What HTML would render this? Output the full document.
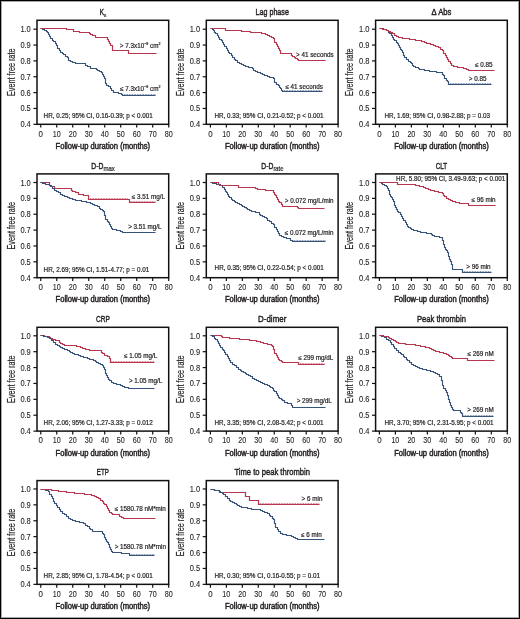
<!DOCTYPE html>
<html><head><meta charset="utf-8"><style>
html,body{margin:0;padding:0;background:#fff;}
body{width:520px;height:619px;overflow:hidden;}
svg{display:block;will-change:transform;}
text{font-family:"Liberation Sans",sans-serif;fill:#231f20;stroke:#231f20;stroke-width:0.45px;}
.sm{stroke-width:0.2px;}
.tk{stroke-width:0.1px;}
.yl{stroke-width:0.2px;}
</style></head><body>
<svg width="520" height="619" viewBox="0 0 520 619">
<rect x="0" y="0" width="520" height="619" fill="#fff"/>
<g>
<path d="M40.50,28.50 H42.50 V29.50 H44.50 V30.50 H46.50 V31.50 H47.50 V32.50 H48.50 V34.50 H49.50 V36.50 H50.50 V38.50 H52.50 V40.50 H53.50 V41.50 H55.50 V43.50 H56.50 V45.50 H57.50 V46.50 V48.50 H59.50 V50.50 H60.50 V52.50 H62.50 V53.50 H63.50 V54.50 H65.50 V56.50 H67.50 V57.50 H68.50 V59.50 H68.50 V60.50 H70.50 V61.50 H72.50 V62.50 H73.50 V62.50 H75.50 V63.50 H83.50 H85.50 V65.50 H87.50 V66.50 H88.50 V66.50 H90.50 V68.50 H94.50 H96.50 V69.50 H97.50 V70.50 H99.50 V71.50 H100.50 V71.50 H101.50 V72.50 H102.50 V74.50 H103.50 V76.50 H104.50 V78.50 H105.50 V80.50 H105.50 V81.50 V83.50 H106.50 V85.50 H108.50 V86.50 H110.50 V88.50 H111.50 V90.50 H113.50 V92.50 H116.50 H118.50 V93.50 H119.50 V93.50 H121.50 V94.50 H122.50 V95.50 H155.50" fill="none" stroke="#37537a" stroke-width="1.15"/>
<path d="M40.50,28.50 H66.50 V29.50 H73.50 V31.50 H79.50 V32.50 H87.50 H89.50 V33.50 H90.50 V34.50 H92.50 V35.50 H93.50 V35.50 H95.50 V37.50 H106.50 H107.50 V39.50 H108.50 V41.50 H109.50 V43.50 H110.50 V45.50 H112.50 V47.50 V50.50 H128.50 V53.50 H156.50" fill="none" stroke="#b8364d" stroke-width="1.2"/>
<line x1="122.50" y1="94.50" x2="155.50" y2="94.50" stroke="#37537a" stroke-width="1" stroke-dasharray="0.8 0.8" opacity="0.75"/>
<rect x="37.00" y="20.30" width="131.70" height="104.00" fill="none" stroke="#111" stroke-width="1.5"/>
<line x1="33.40" y1="124.30" x2="37.00" y2="124.30" stroke="#111" stroke-width="1.2"/>
<text class="tk" x="30.80" y="127.30" font-size="8.4" text-anchor="end" textLength="10.4" lengthAdjust="spacingAndGlyphs">0.4</text>
<line x1="33.40" y1="108.45" x2="37.00" y2="108.45" stroke="#111" stroke-width="1.2"/>
<text class="tk" x="30.80" y="111.45" font-size="8.4" text-anchor="end" textLength="10.4" lengthAdjust="spacingAndGlyphs">0.5</text>
<line x1="33.40" y1="92.60" x2="37.00" y2="92.60" stroke="#111" stroke-width="1.2"/>
<text class="tk" x="30.80" y="95.60" font-size="8.4" text-anchor="end" textLength="10.4" lengthAdjust="spacingAndGlyphs">0.6</text>
<line x1="33.40" y1="76.75" x2="37.00" y2="76.75" stroke="#111" stroke-width="1.2"/>
<text class="tk" x="30.80" y="79.75" font-size="8.4" text-anchor="end" textLength="10.4" lengthAdjust="spacingAndGlyphs">0.7</text>
<line x1="33.40" y1="60.90" x2="37.00" y2="60.90" stroke="#111" stroke-width="1.2"/>
<text class="tk" x="30.80" y="63.90" font-size="8.4" text-anchor="end" textLength="10.4" lengthAdjust="spacingAndGlyphs">0.8</text>
<line x1="33.40" y1="45.05" x2="37.00" y2="45.05" stroke="#111" stroke-width="1.2"/>
<text class="tk" x="30.80" y="48.05" font-size="8.4" text-anchor="end" textLength="10.4" lengthAdjust="spacingAndGlyphs">0.9</text>
<line x1="33.40" y1="29.20" x2="37.00" y2="29.20" stroke="#111" stroke-width="1.2"/>
<text class="tk" x="30.80" y="32.20" font-size="8.4" text-anchor="end" textLength="10.4" lengthAdjust="spacingAndGlyphs">1.0</text>
<line x1="40.75" y1="124.30" x2="40.75" y2="127.60" stroke="#111" stroke-width="1.2"/>
<text class="tk" x="40.75" y="136.60" font-size="8.4" text-anchor="middle" textLength="4.40" lengthAdjust="spacingAndGlyphs">0</text>
<line x1="56.74" y1="124.30" x2="56.74" y2="127.60" stroke="#111" stroke-width="1.2"/>
<text class="tk" x="56.74" y="136.60" font-size="8.4" text-anchor="middle" textLength="8.00" lengthAdjust="spacingAndGlyphs">10</text>
<line x1="72.74" y1="124.30" x2="72.74" y2="127.60" stroke="#111" stroke-width="1.2"/>
<text class="tk" x="72.74" y="136.60" font-size="8.4" text-anchor="middle" textLength="8.00" lengthAdjust="spacingAndGlyphs">20</text>
<line x1="88.73" y1="124.30" x2="88.73" y2="127.60" stroke="#111" stroke-width="1.2"/>
<text class="tk" x="88.73" y="136.60" font-size="8.4" text-anchor="middle" textLength="8.00" lengthAdjust="spacingAndGlyphs">30</text>
<line x1="104.72" y1="124.30" x2="104.72" y2="127.60" stroke="#111" stroke-width="1.2"/>
<text class="tk" x="104.72" y="136.60" font-size="8.4" text-anchor="middle" textLength="8.00" lengthAdjust="spacingAndGlyphs">40</text>
<line x1="120.72" y1="124.30" x2="120.72" y2="127.60" stroke="#111" stroke-width="1.2"/>
<text class="tk" x="120.72" y="136.60" font-size="8.4" text-anchor="middle" textLength="8.00" lengthAdjust="spacingAndGlyphs">50</text>
<line x1="136.71" y1="124.30" x2="136.71" y2="127.60" stroke="#111" stroke-width="1.2"/>
<text class="tk" x="136.71" y="136.60" font-size="8.4" text-anchor="middle" textLength="8.00" lengthAdjust="spacingAndGlyphs">60</text>
<line x1="152.71" y1="124.30" x2="152.71" y2="127.60" stroke="#111" stroke-width="1.2"/>
<text class="tk" x="152.71" y="136.60" font-size="8.4" text-anchor="middle" textLength="8.00" lengthAdjust="spacingAndGlyphs">70</text>
<line x1="168.70" y1="124.30" x2="168.70" y2="127.60" stroke="#111" stroke-width="1.2"/>
<text class="tk" x="168.70" y="136.60" font-size="8.4" text-anchor="middle" textLength="8.00" lengthAdjust="spacingAndGlyphs">80</text>
<text x="102.85" y="149.00" font-size="8.3" text-anchor="middle" textLength="94.6" lengthAdjust="spacingAndGlyphs">Follow-up duration (months)</text>
<text class="yl" transform="translate(14.50,72.30) rotate(-90)" font-size="10" text-anchor="middle" textLength="47.4" lengthAdjust="spacingAndGlyphs">Event free rate</text>
<text x="99.75" y="15.10" font-size="9.8" textLength="4.2" lengthAdjust="spacingAndGlyphs">K</text>
<text class="sm" x="103.85" y="17.30" font-size="6.2" textLength="2.6" lengthAdjust="spacingAndGlyphs">s</text>
<text class="sm" x="43.60" y="117.90" font-size="6.3">HR, 0.25; 95% CI, 0.16-0.39; p &lt; 0.001</text>
<text class="sm" x="119.80" y="47.50" font-size="6.30">&gt; 7.3x10<tspan font-size="3.6" dy="-2.6">−9</tspan><tspan dy="2.6"> cm</tspan><tspan font-size="3.6" dy="-2.6">2</tspan></text>
<text class="sm" x="120.00" y="90.60" font-size="6.30">≤ 7.3x10<tspan font-size="3.6" dy="-2.6">−9</tspan><tspan dy="2.6"> cm</tspan><tspan font-size="3.6" dy="-2.6">2</tspan></text>
</g>
<g>
<path d="M210.50,28.50 H212.50 V29.50 H213.50 V30.50 H214.50 V32.50 H215.50 V33.50 H217.50 V35.50 H218.50 V37.50 H219.50 V39.50 H221.50 V40.50 H222.50 V42.50 H223.50 V44.50 H224.50 V46.50 H226.50 V48.50 H227.50 V50.50 H228.50 V52.50 H229.50 V53.50 H231.50 V55.50 H232.50 V57.50 H234.50 V59.50 H235.50 V60.50 H237.50 V62.50 H239.50 V63.50 H241.50 V64.50 H243.50 V65.50 H245.50 V66.50 H247.50 V66.50 H248.50 V67.50 H250.50 V67.50 H252.50 V68.50 H253.50 V70.50 H255.50 V71.50 H257.50 V72.50 H258.50 V72.50 H260.50 V73.50 H262.50 V74.50 H264.50 V75.50 H265.50 V75.50 H267.50 V76.50 H269.50 V77.50 H271.50 V77.50 H273.50 V78.50 H274.50 V80.50 H274.50 V82.50 H276.50 V84.50 H278.50 V85.50 H279.50 V87.50 H280.50 V88.50 H281.50 V90.50 H282.50 V91.50 H322.50" fill="none" stroke="#37537a" stroke-width="1.15"/>
<path d="M210.50,28.50 H223.50 H225.50 V30.50 H239.50 H241.50 V31.50 H243.50 V31.50 H245.50 V31.50 H247.50 V31.50 H248.50 V31.50 H250.50 V32.50 H252.50 V32.50 H254.50 V32.50 H255.50 V32.50 H257.50 V32.50 H259.50 V32.50 H261.50 V33.50 H263.50 V33.50 H265.50 V34.50 H267.50 V35.50 H269.50 V36.50 H271.50 V37.50 H273.50 V38.50 H274.50 V40.50 H274.50 V42.50 H276.50 V44.50 H277.50 V46.50 H278.50 V48.50 H279.50 V50.50 H280.50 V52.50 H280.50 V53.50 H289.50 H291.50 V55.50 H292.50 V56.50 H294.50 V57.50 H295.50 V58.50 H297.50 V59.50 H298.50 V60.50 H325.50" fill="none" stroke="#b8364d" stroke-width="1.2"/>
<line x1="282.50" y1="90.50" x2="322.50" y2="90.50" stroke="#37537a" stroke-width="1" stroke-dasharray="0.8 0.8" opacity="0.75"/>
<rect x="206.30" y="20.30" width="131.80" height="104.00" fill="none" stroke="#111" stroke-width="1.5"/>
<line x1="202.70" y1="124.30" x2="206.30" y2="124.30" stroke="#111" stroke-width="1.2"/>
<text class="tk" x="200.10" y="127.30" font-size="8.4" text-anchor="end" textLength="10.4" lengthAdjust="spacingAndGlyphs">0.4</text>
<line x1="202.70" y1="108.45" x2="206.30" y2="108.45" stroke="#111" stroke-width="1.2"/>
<text class="tk" x="200.10" y="111.45" font-size="8.4" text-anchor="end" textLength="10.4" lengthAdjust="spacingAndGlyphs">0.5</text>
<line x1="202.70" y1="92.60" x2="206.30" y2="92.60" stroke="#111" stroke-width="1.2"/>
<text class="tk" x="200.10" y="95.60" font-size="8.4" text-anchor="end" textLength="10.4" lengthAdjust="spacingAndGlyphs">0.6</text>
<line x1="202.70" y1="76.75" x2="206.30" y2="76.75" stroke="#111" stroke-width="1.2"/>
<text class="tk" x="200.10" y="79.75" font-size="8.4" text-anchor="end" textLength="10.4" lengthAdjust="spacingAndGlyphs">0.7</text>
<line x1="202.70" y1="60.90" x2="206.30" y2="60.90" stroke="#111" stroke-width="1.2"/>
<text class="tk" x="200.10" y="63.90" font-size="8.4" text-anchor="end" textLength="10.4" lengthAdjust="spacingAndGlyphs">0.8</text>
<line x1="202.70" y1="45.05" x2="206.30" y2="45.05" stroke="#111" stroke-width="1.2"/>
<text class="tk" x="200.10" y="48.05" font-size="8.4" text-anchor="end" textLength="10.4" lengthAdjust="spacingAndGlyphs">0.9</text>
<line x1="202.70" y1="29.20" x2="206.30" y2="29.20" stroke="#111" stroke-width="1.2"/>
<text class="tk" x="200.10" y="32.20" font-size="8.4" text-anchor="end" textLength="10.4" lengthAdjust="spacingAndGlyphs">1.0</text>
<line x1="210.40" y1="124.30" x2="210.40" y2="127.60" stroke="#111" stroke-width="1.2"/>
<text class="tk" x="210.40" y="136.60" font-size="8.4" text-anchor="middle" textLength="4.40" lengthAdjust="spacingAndGlyphs">0</text>
<line x1="226.36" y1="124.30" x2="226.36" y2="127.60" stroke="#111" stroke-width="1.2"/>
<text class="tk" x="226.36" y="136.60" font-size="8.4" text-anchor="middle" textLength="8.00" lengthAdjust="spacingAndGlyphs">10</text>
<line x1="242.33" y1="124.30" x2="242.33" y2="127.60" stroke="#111" stroke-width="1.2"/>
<text class="tk" x="242.33" y="136.60" font-size="8.4" text-anchor="middle" textLength="8.00" lengthAdjust="spacingAndGlyphs">20</text>
<line x1="258.29" y1="124.30" x2="258.29" y2="127.60" stroke="#111" stroke-width="1.2"/>
<text class="tk" x="258.29" y="136.60" font-size="8.4" text-anchor="middle" textLength="8.00" lengthAdjust="spacingAndGlyphs">30</text>
<line x1="274.25" y1="124.30" x2="274.25" y2="127.60" stroke="#111" stroke-width="1.2"/>
<text class="tk" x="274.25" y="136.60" font-size="8.4" text-anchor="middle" textLength="8.00" lengthAdjust="spacingAndGlyphs">40</text>
<line x1="290.21" y1="124.30" x2="290.21" y2="127.60" stroke="#111" stroke-width="1.2"/>
<text class="tk" x="290.21" y="136.60" font-size="8.4" text-anchor="middle" textLength="8.00" lengthAdjust="spacingAndGlyphs">50</text>
<line x1="306.18" y1="124.30" x2="306.18" y2="127.60" stroke="#111" stroke-width="1.2"/>
<text class="tk" x="306.18" y="136.60" font-size="8.4" text-anchor="middle" textLength="8.00" lengthAdjust="spacingAndGlyphs">60</text>
<line x1="322.14" y1="124.30" x2="322.14" y2="127.60" stroke="#111" stroke-width="1.2"/>
<text class="tk" x="322.14" y="136.60" font-size="8.4" text-anchor="middle" textLength="8.00" lengthAdjust="spacingAndGlyphs">70</text>
<line x1="338.10" y1="124.30" x2="338.10" y2="127.60" stroke="#111" stroke-width="1.2"/>
<text class="tk" x="338.10" y="136.60" font-size="8.4" text-anchor="middle" textLength="8.00" lengthAdjust="spacingAndGlyphs">80</text>
<text x="272.20" y="149.00" font-size="8.3" text-anchor="middle" textLength="94.6" lengthAdjust="spacingAndGlyphs">Follow-up duration (months)</text>
<text class="yl" transform="translate(183.80,72.30) rotate(-90)" font-size="10" text-anchor="middle" textLength="47.4" lengthAdjust="spacingAndGlyphs">Event free rate</text>
<text x="272.20" y="15.10" font-size="9.8" text-anchor="middle" textLength="33.30" lengthAdjust="spacingAndGlyphs">Lag phase</text>
<text class="sm" x="214.50" y="117.70" font-size="6.3">HR, 0.33; 95% CI, 0.21-0.52; p &lt; 0.001</text>
<text class="sm" x="296.00" y="56.70" font-size="6.30">&gt; 41 seconds</text>
<text class="sm" x="285.40" y="89.30" font-size="6.30">≤ 41 seconds</text>
</g>
<g>
<path d="M379.50,28.50 H381.50 H383.50 V29.50 H384.50 V29.50 H386.50 V30.50 H388.50 V32.50 H389.50 V33.50 H391.50 V35.50 H392.50 V37.50 H393.50 V39.50 H394.50 V40.50 H396.50 V42.50 H397.50 V43.50 H398.50 V45.50 H399.50 V47.50 H400.50 V49.50 H401.50 V50.50 H402.50 V52.50 H403.50 V54.50 H403.50 V55.50 H404.50 V57.50 H406.50 V59.50 H408.50 V61.50 H410.50 V62.50 H411.50 V63.50 H412.50 V65.50 H413.50 V66.50 H415.50 V67.50 H416.50 V67.50 H418.50 V68.50 H419.50 V69.50 H421.50 V69.50 H423.50 V69.50 H424.50 V70.50 H426.50 V70.50 H428.50 V70.50 H429.50 V71.50 H431.50 V71.50 H432.50 V71.50 H434.50 V71.50 H436.50 V72.50 H438.50 V72.50 H439.50 V72.50 H441.50 V72.50 H442.50 V74.50 H443.50 V75.50 H444.50 V77.50 H444.50 V78.50 H446.50 V80.50 H447.50 V81.50 H448.50 V83.50 H448.50 V84.50 H491.50" fill="none" stroke="#37537a" stroke-width="1.15"/>
<path d="M379.50,28.50 H381.50 V28.50 H382.50 V29.50 H384.50 V29.50 H386.50 V30.50 H388.50 V31.50 H390.50 V32.50 H392.50 V33.50 H394.50 V35.50 H396.50 V36.50 H398.50 V37.50 H400.50 V37.50 H402.50 V38.50 H404.50 V38.50 H406.50 V38.50 H408.50 V38.50 H409.50 V39.50 H411.50 V39.50 H413.50 V39.50 H415.50 V40.50 H417.50 V40.50 H419.50 V40.50 H421.50 V41.50 H422.50 V41.50 H424.50 V42.50 H426.50 V43.50 H428.50 V43.50 H430.50 V44.50 H431.50 V44.50 H433.50 V45.50 H435.50 V46.50 H436.50 V46.50 H438.50 V47.50 H440.50 V49.50 H442.50 V50.50 H443.50 V52.50 H443.50 V53.50 H445.50 V55.50 H446.50 V57.50 H447.50 V59.50 H448.50 V61.50 H450.50 V63.50 H451.50 V65.50 H453.50 V66.50 H455.50 V66.50 H457.50 V67.50 H459.50 V67.50 H461.50 V67.50 H463.50 V68.50 H464.50 V68.50 H466.50 V69.50 H468.50 V70.50 H494.50" fill="none" stroke="#b8364d" stroke-width="1.2"/>
<line x1="448.50" y1="83.50" x2="491.50" y2="83.50" stroke="#37537a" stroke-width="1" stroke-dasharray="0.8 0.8" opacity="0.75"/>
<rect x="375.60" y="20.30" width="131.70" height="104.00" fill="none" stroke="#111" stroke-width="1.5"/>
<line x1="372.00" y1="124.30" x2="375.60" y2="124.30" stroke="#111" stroke-width="1.2"/>
<text class="tk" x="369.40" y="127.30" font-size="8.4" text-anchor="end" textLength="10.4" lengthAdjust="spacingAndGlyphs">0.4</text>
<line x1="372.00" y1="108.45" x2="375.60" y2="108.45" stroke="#111" stroke-width="1.2"/>
<text class="tk" x="369.40" y="111.45" font-size="8.4" text-anchor="end" textLength="10.4" lengthAdjust="spacingAndGlyphs">0.5</text>
<line x1="372.00" y1="92.60" x2="375.60" y2="92.60" stroke="#111" stroke-width="1.2"/>
<text class="tk" x="369.40" y="95.60" font-size="8.4" text-anchor="end" textLength="10.4" lengthAdjust="spacingAndGlyphs">0.6</text>
<line x1="372.00" y1="76.75" x2="375.60" y2="76.75" stroke="#111" stroke-width="1.2"/>
<text class="tk" x="369.40" y="79.75" font-size="8.4" text-anchor="end" textLength="10.4" lengthAdjust="spacingAndGlyphs">0.7</text>
<line x1="372.00" y1="60.90" x2="375.60" y2="60.90" stroke="#111" stroke-width="1.2"/>
<text class="tk" x="369.40" y="63.90" font-size="8.4" text-anchor="end" textLength="10.4" lengthAdjust="spacingAndGlyphs">0.8</text>
<line x1="372.00" y1="45.05" x2="375.60" y2="45.05" stroke="#111" stroke-width="1.2"/>
<text class="tk" x="369.40" y="48.05" font-size="8.4" text-anchor="end" textLength="10.4" lengthAdjust="spacingAndGlyphs">0.9</text>
<line x1="372.00" y1="29.20" x2="375.60" y2="29.20" stroke="#111" stroke-width="1.2"/>
<text class="tk" x="369.40" y="32.20" font-size="8.4" text-anchor="end" textLength="10.4" lengthAdjust="spacingAndGlyphs">1.0</text>
<line x1="379.40" y1="124.30" x2="379.40" y2="127.60" stroke="#111" stroke-width="1.2"/>
<text class="tk" x="379.40" y="136.60" font-size="8.4" text-anchor="middle" textLength="4.40" lengthAdjust="spacingAndGlyphs">0</text>
<line x1="395.39" y1="124.30" x2="395.39" y2="127.60" stroke="#111" stroke-width="1.2"/>
<text class="tk" x="395.39" y="136.60" font-size="8.4" text-anchor="middle" textLength="8.00" lengthAdjust="spacingAndGlyphs">10</text>
<line x1="411.38" y1="124.30" x2="411.38" y2="127.60" stroke="#111" stroke-width="1.2"/>
<text class="tk" x="411.38" y="136.60" font-size="8.4" text-anchor="middle" textLength="8.00" lengthAdjust="spacingAndGlyphs">20</text>
<line x1="427.36" y1="124.30" x2="427.36" y2="127.60" stroke="#111" stroke-width="1.2"/>
<text class="tk" x="427.36" y="136.60" font-size="8.4" text-anchor="middle" textLength="8.00" lengthAdjust="spacingAndGlyphs">30</text>
<line x1="443.35" y1="124.30" x2="443.35" y2="127.60" stroke="#111" stroke-width="1.2"/>
<text class="tk" x="443.35" y="136.60" font-size="8.4" text-anchor="middle" textLength="8.00" lengthAdjust="spacingAndGlyphs">40</text>
<line x1="459.34" y1="124.30" x2="459.34" y2="127.60" stroke="#111" stroke-width="1.2"/>
<text class="tk" x="459.34" y="136.60" font-size="8.4" text-anchor="middle" textLength="8.00" lengthAdjust="spacingAndGlyphs">50</text>
<line x1="475.32" y1="124.30" x2="475.32" y2="127.60" stroke="#111" stroke-width="1.2"/>
<text class="tk" x="475.32" y="136.60" font-size="8.4" text-anchor="middle" textLength="8.00" lengthAdjust="spacingAndGlyphs">60</text>
<line x1="491.31" y1="124.30" x2="491.31" y2="127.60" stroke="#111" stroke-width="1.2"/>
<text class="tk" x="491.31" y="136.60" font-size="8.4" text-anchor="middle" textLength="8.00" lengthAdjust="spacingAndGlyphs">70</text>
<line x1="507.30" y1="124.30" x2="507.30" y2="127.60" stroke="#111" stroke-width="1.2"/>
<text class="tk" x="507.30" y="136.60" font-size="8.4" text-anchor="middle" textLength="8.00" lengthAdjust="spacingAndGlyphs">80</text>
<text x="441.45" y="149.00" font-size="8.3" text-anchor="middle" textLength="94.6" lengthAdjust="spacingAndGlyphs">Follow-up duration (months)</text>
<text class="yl" transform="translate(353.10,72.30) rotate(-90)" font-size="10" text-anchor="middle" textLength="47.4" lengthAdjust="spacingAndGlyphs">Event free rate</text>
<text x="441.45" y="15.10" font-size="9" text-anchor="middle" textLength="19.9" lengthAdjust="spacingAndGlyphs">Δ Abs</text>
<text class="sm" x="384.50" y="117.70" font-size="6.3">HR, 1.69; 95% CI, 0.98-2.88; p = 0.03</text>
<text class="sm" x="475.00" y="67.40" font-size="6.30">≤ 0.85</text>
<text class="sm" x="468.80" y="80.80" font-size="6.30">&gt; 0.85</text>
</g>
<g>
<path d="M40.50,182.50 H48.50 H49.50 V184.50 H49.50 V185.50 H51.50 V186.50 H52.50 V186.50 H54.50 V188.50 H70.50 H71.50 V190.50 H72.50 V191.50 H74.50 V191.50 H75.50 V192.50 H77.50 V192.50 H78.50 V194.50 H80.50 V194.50 H82.50 V194.50 H83.50 V195.50 H85.50 V195.50 H87.50 V195.50 H88.50 V197.50 H88.50 V199.50 H128.50 H129.50 V201.50 H129.50 V202.50 H155.50" fill="none" stroke="#b8364d" stroke-width="1.2"/>
<path d="M40.50,182.50 H42.50 V183.50 H44.50 V183.50 H45.50 V184.50 H47.50 V184.50 H49.50 V185.50 H50.50 V186.50 H52.50 V188.50 H54.50 V190.50 H56.50 V191.50 H58.50 V192.50 H60.50 V194.50 H62.50 V195.50 H64.50 V196.50 H65.50 V196.50 H67.50 V197.50 H69.50 V198.50 H70.50 V198.50 H72.50 V199.50 H74.50 V199.50 H75.50 V200.50 H77.50 V200.50 H79.50 V200.50 H81.50 V201.50 H82.50 V201.50 H84.50 V201.50 H86.50 V202.50 H88.50 V202.50 H90.50 V203.50 H92.50 V204.50 H94.50 V205.50 H95.50 V205.50 H97.50 V206.50 H99.50 V208.50 H100.50 V209.50 H102.50 V210.50 H103.50 V211.50 H104.50 V213.50 H104.50 V215.50 H105.50 V217.50 H105.50 V219.50 H107.50 V221.50 H108.50 V222.50 H109.50 V224.50 H110.50 V226.50 H111.50 V228.50 H112.50 V229.50 H114.50 V229.50 H116.50 V230.50 H118.50 V230.50 H120.50 V231.50 H122.50 V232.50 H155.50" fill="none" stroke="#37537a" stroke-width="1.15"/>
<line x1="88.50" y1="198.50" x2="128.50" y2="198.50" stroke="#b8364d" stroke-width="1" stroke-dasharray="0.8 0.8" opacity="0.75"/>
<line x1="129.50" y1="201.50" x2="155.50" y2="201.50" stroke="#b8364d" stroke-width="1" stroke-dasharray="0.8 0.8" opacity="0.75"/>
<rect x="37.00" y="173.90" width="131.70" height="103.80" fill="none" stroke="#111" stroke-width="1.5"/>
<line x1="33.40" y1="277.70" x2="37.00" y2="277.70" stroke="#111" stroke-width="1.2"/>
<text class="tk" x="30.80" y="280.70" font-size="8.4" text-anchor="end" textLength="10.4" lengthAdjust="spacingAndGlyphs">0.4</text>
<line x1="33.40" y1="261.83" x2="37.00" y2="261.83" stroke="#111" stroke-width="1.2"/>
<text class="tk" x="30.80" y="264.83" font-size="8.4" text-anchor="end" textLength="10.4" lengthAdjust="spacingAndGlyphs">0.5</text>
<line x1="33.40" y1="245.97" x2="37.00" y2="245.97" stroke="#111" stroke-width="1.2"/>
<text class="tk" x="30.80" y="248.97" font-size="8.4" text-anchor="end" textLength="10.4" lengthAdjust="spacingAndGlyphs">0.6</text>
<line x1="33.40" y1="230.10" x2="37.00" y2="230.10" stroke="#111" stroke-width="1.2"/>
<text class="tk" x="30.80" y="233.10" font-size="8.4" text-anchor="end" textLength="10.4" lengthAdjust="spacingAndGlyphs">0.7</text>
<line x1="33.40" y1="214.23" x2="37.00" y2="214.23" stroke="#111" stroke-width="1.2"/>
<text class="tk" x="30.80" y="217.23" font-size="8.4" text-anchor="end" textLength="10.4" lengthAdjust="spacingAndGlyphs">0.8</text>
<line x1="33.40" y1="198.37" x2="37.00" y2="198.37" stroke="#111" stroke-width="1.2"/>
<text class="tk" x="30.80" y="201.37" font-size="8.4" text-anchor="end" textLength="10.4" lengthAdjust="spacingAndGlyphs">0.9</text>
<line x1="33.40" y1="182.50" x2="37.00" y2="182.50" stroke="#111" stroke-width="1.2"/>
<text class="tk" x="30.80" y="185.50" font-size="8.4" text-anchor="end" textLength="10.4" lengthAdjust="spacingAndGlyphs">1.0</text>
<line x1="40.75" y1="277.70" x2="40.75" y2="281.00" stroke="#111" stroke-width="1.2"/>
<text class="tk" x="40.75" y="290.00" font-size="8.4" text-anchor="middle" textLength="4.40" lengthAdjust="spacingAndGlyphs">0</text>
<line x1="56.74" y1="277.70" x2="56.74" y2="281.00" stroke="#111" stroke-width="1.2"/>
<text class="tk" x="56.74" y="290.00" font-size="8.4" text-anchor="middle" textLength="8.00" lengthAdjust="spacingAndGlyphs">10</text>
<line x1="72.74" y1="277.70" x2="72.74" y2="281.00" stroke="#111" stroke-width="1.2"/>
<text class="tk" x="72.74" y="290.00" font-size="8.4" text-anchor="middle" textLength="8.00" lengthAdjust="spacingAndGlyphs">20</text>
<line x1="88.73" y1="277.70" x2="88.73" y2="281.00" stroke="#111" stroke-width="1.2"/>
<text class="tk" x="88.73" y="290.00" font-size="8.4" text-anchor="middle" textLength="8.00" lengthAdjust="spacingAndGlyphs">30</text>
<line x1="104.72" y1="277.70" x2="104.72" y2="281.00" stroke="#111" stroke-width="1.2"/>
<text class="tk" x="104.72" y="290.00" font-size="8.4" text-anchor="middle" textLength="8.00" lengthAdjust="spacingAndGlyphs">40</text>
<line x1="120.72" y1="277.70" x2="120.72" y2="281.00" stroke="#111" stroke-width="1.2"/>
<text class="tk" x="120.72" y="290.00" font-size="8.4" text-anchor="middle" textLength="8.00" lengthAdjust="spacingAndGlyphs">50</text>
<line x1="136.71" y1="277.70" x2="136.71" y2="281.00" stroke="#111" stroke-width="1.2"/>
<text class="tk" x="136.71" y="290.00" font-size="8.4" text-anchor="middle" textLength="8.00" lengthAdjust="spacingAndGlyphs">60</text>
<line x1="152.71" y1="277.70" x2="152.71" y2="281.00" stroke="#111" stroke-width="1.2"/>
<text class="tk" x="152.71" y="290.00" font-size="8.4" text-anchor="middle" textLength="8.00" lengthAdjust="spacingAndGlyphs">70</text>
<line x1="168.70" y1="277.70" x2="168.70" y2="281.00" stroke="#111" stroke-width="1.2"/>
<text class="tk" x="168.70" y="290.00" font-size="8.4" text-anchor="middle" textLength="8.00" lengthAdjust="spacingAndGlyphs">80</text>
<text x="102.85" y="302.40" font-size="8.3" text-anchor="middle" textLength="94.6" lengthAdjust="spacingAndGlyphs">Follow-up duration (months)</text>
<text class="yl" transform="translate(14.50,225.80) rotate(-90)" font-size="10" text-anchor="middle" textLength="47.4" lengthAdjust="spacingAndGlyphs">Event free rate</text>
<text x="91.35" y="168.70" font-size="9.8" textLength="12.0" lengthAdjust="spacingAndGlyphs">D-D</text>
<text class="sm" x="103.45" y="171.10" font-size="6.6" textLength="11.4" lengthAdjust="spacingAndGlyphs">max</text>
<text class="sm" x="43.60" y="271.50" font-size="6.3">HR, 2.69; 95% CI, 1.51-4.77; p = 0.01</text>
<text class="sm" x="131.70" y="198.60" font-size="6.30">≤ 3.51 mg/L</text>
<text class="sm" x="128.20" y="228.50" font-size="6.30">&gt; 3.51 mg/L</text>
</g>
<g>
<path d="M210.50,182.50 H212.50 V183.50 H214.50 V183.50 H216.50 V184.50 H218.50 V184.50 H220.50 V185.50 H222.50 V187.50 H224.50 V189.50 H225.50 V191.50 H226.50 V192.50 H227.50 V194.50 H228.50 V196.50 H229.50 V197.50 H231.50 V199.50 H232.50 V200.50 H234.50 V201.50 H235.50 V202.50 H237.50 V203.50 H239.50 V204.50 H241.50 V205.50 H242.50 V206.50 H244.50 V207.50 H246.50 V208.50 H247.50 V209.50 H249.50 V210.50 H251.50 V211.50 H253.50 V211.50 H255.50 V212.50 H257.50 V212.50 H259.50 V214.50 H260.50 V215.50 H262.50 V216.50 H264.50 V217.50 H266.50 V218.50 H267.50 V220.50 H269.50 V221.50 H271.50 V223.50 H273.50 V224.50 H274.50 V226.50 H274.50 V227.50 H276.50 V229.50 H277.50 V231.50 H278.50 V233.50 H279.50 V235.50 H281.50 V236.50 H283.50 V237.50 H285.50 V237.50 H286.50 V238.50 H288.50 V238.50 H290.50 V240.50 H292.50 V241.50 H325.50" fill="none" stroke="#37537a" stroke-width="1.15"/>
<path d="M210.50,182.50 H217.50 H218.50 V184.50 H219.50 V185.50 H237.50 H238.50 V187.50 H253.50 H255.50 V188.50 H257.50 V189.50 H259.50 V189.50 H261.50 V189.50 H263.50 V189.50 H265.50 V190.50 H266.50 V190.50 H268.50 V190.50 H270.50 V190.50 H272.50 V190.50 H273.50 V192.50 H274.50 V194.50 H275.50 V195.50 H276.50 V197.50 H277.50 V199.50 H278.50 V201.50 H279.50 V202.50 H281.50 V204.50 H282.50 V206.50 H295.50 H297.50 V207.50 H298.50 V208.50 H324.50" fill="none" stroke="#b8364d" stroke-width="1.2"/>
<line x1="292.50" y1="240.50" x2="325.50" y2="240.50" stroke="#37537a" stroke-width="1" stroke-dasharray="0.8 0.8" opacity="0.75"/>
<rect x="206.30" y="173.90" width="131.80" height="103.80" fill="none" stroke="#111" stroke-width="1.5"/>
<line x1="202.70" y1="277.70" x2="206.30" y2="277.70" stroke="#111" stroke-width="1.2"/>
<text class="tk" x="200.10" y="280.70" font-size="8.4" text-anchor="end" textLength="10.4" lengthAdjust="spacingAndGlyphs">0.4</text>
<line x1="202.70" y1="261.83" x2="206.30" y2="261.83" stroke="#111" stroke-width="1.2"/>
<text class="tk" x="200.10" y="264.83" font-size="8.4" text-anchor="end" textLength="10.4" lengthAdjust="spacingAndGlyphs">0.5</text>
<line x1="202.70" y1="245.97" x2="206.30" y2="245.97" stroke="#111" stroke-width="1.2"/>
<text class="tk" x="200.10" y="248.97" font-size="8.4" text-anchor="end" textLength="10.4" lengthAdjust="spacingAndGlyphs">0.6</text>
<line x1="202.70" y1="230.10" x2="206.30" y2="230.10" stroke="#111" stroke-width="1.2"/>
<text class="tk" x="200.10" y="233.10" font-size="8.4" text-anchor="end" textLength="10.4" lengthAdjust="spacingAndGlyphs">0.7</text>
<line x1="202.70" y1="214.23" x2="206.30" y2="214.23" stroke="#111" stroke-width="1.2"/>
<text class="tk" x="200.10" y="217.23" font-size="8.4" text-anchor="end" textLength="10.4" lengthAdjust="spacingAndGlyphs">0.8</text>
<line x1="202.70" y1="198.37" x2="206.30" y2="198.37" stroke="#111" stroke-width="1.2"/>
<text class="tk" x="200.10" y="201.37" font-size="8.4" text-anchor="end" textLength="10.4" lengthAdjust="spacingAndGlyphs">0.9</text>
<line x1="202.70" y1="182.50" x2="206.30" y2="182.50" stroke="#111" stroke-width="1.2"/>
<text class="tk" x="200.10" y="185.50" font-size="8.4" text-anchor="end" textLength="10.4" lengthAdjust="spacingAndGlyphs">1.0</text>
<line x1="210.40" y1="277.70" x2="210.40" y2="281.00" stroke="#111" stroke-width="1.2"/>
<text class="tk" x="210.40" y="290.00" font-size="8.4" text-anchor="middle" textLength="4.40" lengthAdjust="spacingAndGlyphs">0</text>
<line x1="226.36" y1="277.70" x2="226.36" y2="281.00" stroke="#111" stroke-width="1.2"/>
<text class="tk" x="226.36" y="290.00" font-size="8.4" text-anchor="middle" textLength="8.00" lengthAdjust="spacingAndGlyphs">10</text>
<line x1="242.33" y1="277.70" x2="242.33" y2="281.00" stroke="#111" stroke-width="1.2"/>
<text class="tk" x="242.33" y="290.00" font-size="8.4" text-anchor="middle" textLength="8.00" lengthAdjust="spacingAndGlyphs">20</text>
<line x1="258.29" y1="277.70" x2="258.29" y2="281.00" stroke="#111" stroke-width="1.2"/>
<text class="tk" x="258.29" y="290.00" font-size="8.4" text-anchor="middle" textLength="8.00" lengthAdjust="spacingAndGlyphs">30</text>
<line x1="274.25" y1="277.70" x2="274.25" y2="281.00" stroke="#111" stroke-width="1.2"/>
<text class="tk" x="274.25" y="290.00" font-size="8.4" text-anchor="middle" textLength="8.00" lengthAdjust="spacingAndGlyphs">40</text>
<line x1="290.21" y1="277.70" x2="290.21" y2="281.00" stroke="#111" stroke-width="1.2"/>
<text class="tk" x="290.21" y="290.00" font-size="8.4" text-anchor="middle" textLength="8.00" lengthAdjust="spacingAndGlyphs">50</text>
<line x1="306.18" y1="277.70" x2="306.18" y2="281.00" stroke="#111" stroke-width="1.2"/>
<text class="tk" x="306.18" y="290.00" font-size="8.4" text-anchor="middle" textLength="8.00" lengthAdjust="spacingAndGlyphs">60</text>
<line x1="322.14" y1="277.70" x2="322.14" y2="281.00" stroke="#111" stroke-width="1.2"/>
<text class="tk" x="322.14" y="290.00" font-size="8.4" text-anchor="middle" textLength="8.00" lengthAdjust="spacingAndGlyphs">70</text>
<line x1="338.10" y1="277.70" x2="338.10" y2="281.00" stroke="#111" stroke-width="1.2"/>
<text class="tk" x="338.10" y="290.00" font-size="8.4" text-anchor="middle" textLength="8.00" lengthAdjust="spacingAndGlyphs">80</text>
<text x="272.20" y="302.40" font-size="8.3" text-anchor="middle" textLength="94.6" lengthAdjust="spacingAndGlyphs">Follow-up duration (months)</text>
<text class="yl" transform="translate(183.80,225.80) rotate(-90)" font-size="10" text-anchor="middle" textLength="47.4" lengthAdjust="spacingAndGlyphs">Event free rate</text>
<text x="261.30" y="168.70" font-size="9.8" textLength="12.0" lengthAdjust="spacingAndGlyphs">D-D</text>
<text class="sm" x="273.40" y="171.10" font-size="6.6" textLength="10.0" lengthAdjust="spacingAndGlyphs">rate</text>
<text class="sm" x="214.60" y="270.10" font-size="6.3">HR, 0.35; 95% CI, 0.22-0.54; p &lt; 0.001</text>
<text class="sm" x="284.80" y="203.10" font-size="6.30">&gt; 0.072 mg/L/min</text>
<text class="sm" x="284.80" y="234.80" font-size="6.30">≤ 0.072 mg/L/min</text>
</g>
<g>
<path d="M379.50,182.50 H381.50 V183.50 H382.50 V184.50 H384.50 V185.50 H386.50 V186.50 H387.50 V188.50 H388.50 V190.50 H389.50 V192.50 H389.50 V194.50 H390.50 V196.50 H391.50 V197.50 H392.50 V199.50 H393.50 V201.50 H394.50 V203.50 H394.50 V205.50 H395.50 V207.50 H396.50 V209.50 H397.50 V211.50 H398.50 V212.50 H400.50 V214.50 H401.50 V216.50 H402.50 V218.50 H403.50 V220.50 H405.50 V222.50 H406.50 V224.50 H407.50 V226.50 H408.50 V227.50 H410.50 V228.50 H411.50 V229.50 H413.50 V230.50 H415.50 V230.50 H417.50 V231.50 H418.50 V231.50 H420.50 V232.50 H422.50 V232.50 H424.50 V232.50 H426.50 V233.50 H427.50 V233.50 H429.50 V233.50 H431.50 V234.50 H432.50 V235.50 H434.50 V236.50 H436.50 V236.50 H438.50 V236.50 H439.50 V237.50 H441.50 V237.50 H442.50 V239.50 H442.50 V240.50 H443.50 V242.50 H443.50 V244.50 H444.50 V246.50 H444.50 V247.50 H445.50 V249.50 H446.50 V250.50 H447.50 V252.50 H448.50 V254.50 H448.50 V256.50 H449.50 V257.50 H449.50 V259.50 H450.50 V261.50 H451.50 V262.50 H451.50 V264.50 H452.50 V266.50 H452.50 V267.50 H452.50 V269.50 H461.50 H462.50 V271.50 H462.50 V272.50 H491.50" fill="none" stroke="#37537a" stroke-width="1.15"/>
<path d="M379.50,182.50 H396.50 H397.50 V184.50 H413.50 H415.50 V185.50 H417.50 V185.50 H419.50 V186.50 H421.50 V186.50 H423.50 V187.50 H425.50 V188.50 H426.50 V188.50 H428.50 V189.50 H430.50 V190.50 H432.50 V190.50 H434.50 V191.50 H436.50 V191.50 H438.50 V192.50 H440.50 V192.50 H442.50 V193.50 H443.50 V195.50 H444.50 V196.50 H446.50 V198.50 H448.50 V199.50 H450.50 V200.50 H452.50 V201.50 H454.50 V201.50 H455.50 V202.50 H457.50 V202.50 H459.50 V203.50 H467.50 H468.50 V205.50 H495.50" fill="none" stroke="#b8364d" stroke-width="1.2"/>
<line x1="462.50" y1="271.50" x2="491.50" y2="271.50" stroke="#37537a" stroke-width="1" stroke-dasharray="0.8 0.8" opacity="0.75"/>
<rect x="375.60" y="173.90" width="131.70" height="103.80" fill="none" stroke="#111" stroke-width="1.5"/>
<line x1="372.00" y1="277.70" x2="375.60" y2="277.70" stroke="#111" stroke-width="1.2"/>
<text class="tk" x="369.40" y="280.70" font-size="8.4" text-anchor="end" textLength="10.4" lengthAdjust="spacingAndGlyphs">0.4</text>
<line x1="372.00" y1="261.83" x2="375.60" y2="261.83" stroke="#111" stroke-width="1.2"/>
<text class="tk" x="369.40" y="264.83" font-size="8.4" text-anchor="end" textLength="10.4" lengthAdjust="spacingAndGlyphs">0.5</text>
<line x1="372.00" y1="245.97" x2="375.60" y2="245.97" stroke="#111" stroke-width="1.2"/>
<text class="tk" x="369.40" y="248.97" font-size="8.4" text-anchor="end" textLength="10.4" lengthAdjust="spacingAndGlyphs">0.6</text>
<line x1="372.00" y1="230.10" x2="375.60" y2="230.10" stroke="#111" stroke-width="1.2"/>
<text class="tk" x="369.40" y="233.10" font-size="8.4" text-anchor="end" textLength="10.4" lengthAdjust="spacingAndGlyphs">0.7</text>
<line x1="372.00" y1="214.23" x2="375.60" y2="214.23" stroke="#111" stroke-width="1.2"/>
<text class="tk" x="369.40" y="217.23" font-size="8.4" text-anchor="end" textLength="10.4" lengthAdjust="spacingAndGlyphs">0.8</text>
<line x1="372.00" y1="198.37" x2="375.60" y2="198.37" stroke="#111" stroke-width="1.2"/>
<text class="tk" x="369.40" y="201.37" font-size="8.4" text-anchor="end" textLength="10.4" lengthAdjust="spacingAndGlyphs">0.9</text>
<line x1="372.00" y1="182.50" x2="375.60" y2="182.50" stroke="#111" stroke-width="1.2"/>
<text class="tk" x="369.40" y="185.50" font-size="8.4" text-anchor="end" textLength="10.4" lengthAdjust="spacingAndGlyphs">1.0</text>
<line x1="379.40" y1="277.70" x2="379.40" y2="281.00" stroke="#111" stroke-width="1.2"/>
<text class="tk" x="379.40" y="290.00" font-size="8.4" text-anchor="middle" textLength="4.40" lengthAdjust="spacingAndGlyphs">0</text>
<line x1="395.39" y1="277.70" x2="395.39" y2="281.00" stroke="#111" stroke-width="1.2"/>
<text class="tk" x="395.39" y="290.00" font-size="8.4" text-anchor="middle" textLength="8.00" lengthAdjust="spacingAndGlyphs">10</text>
<line x1="411.38" y1="277.70" x2="411.38" y2="281.00" stroke="#111" stroke-width="1.2"/>
<text class="tk" x="411.38" y="290.00" font-size="8.4" text-anchor="middle" textLength="8.00" lengthAdjust="spacingAndGlyphs">20</text>
<line x1="427.36" y1="277.70" x2="427.36" y2="281.00" stroke="#111" stroke-width="1.2"/>
<text class="tk" x="427.36" y="290.00" font-size="8.4" text-anchor="middle" textLength="8.00" lengthAdjust="spacingAndGlyphs">30</text>
<line x1="443.35" y1="277.70" x2="443.35" y2="281.00" stroke="#111" stroke-width="1.2"/>
<text class="tk" x="443.35" y="290.00" font-size="8.4" text-anchor="middle" textLength="8.00" lengthAdjust="spacingAndGlyphs">40</text>
<line x1="459.34" y1="277.70" x2="459.34" y2="281.00" stroke="#111" stroke-width="1.2"/>
<text class="tk" x="459.34" y="290.00" font-size="8.4" text-anchor="middle" textLength="8.00" lengthAdjust="spacingAndGlyphs">50</text>
<line x1="475.32" y1="277.70" x2="475.32" y2="281.00" stroke="#111" stroke-width="1.2"/>
<text class="tk" x="475.32" y="290.00" font-size="8.4" text-anchor="middle" textLength="8.00" lengthAdjust="spacingAndGlyphs">60</text>
<line x1="491.31" y1="277.70" x2="491.31" y2="281.00" stroke="#111" stroke-width="1.2"/>
<text class="tk" x="491.31" y="290.00" font-size="8.4" text-anchor="middle" textLength="8.00" lengthAdjust="spacingAndGlyphs">70</text>
<line x1="507.30" y1="277.70" x2="507.30" y2="281.00" stroke="#111" stroke-width="1.2"/>
<text class="tk" x="507.30" y="290.00" font-size="8.4" text-anchor="middle" textLength="8.00" lengthAdjust="spacingAndGlyphs">80</text>
<text x="441.45" y="302.40" font-size="8.3" text-anchor="middle" textLength="94.6" lengthAdjust="spacingAndGlyphs">Follow-up duration (months)</text>
<text class="yl" transform="translate(353.10,225.80) rotate(-90)" font-size="10" text-anchor="middle" textLength="47.4" lengthAdjust="spacingAndGlyphs">Event free rate</text>
<text x="441.45" y="168.70" font-size="9.8" text-anchor="middle" textLength="11.50" lengthAdjust="spacingAndGlyphs">CLT</text>
<text class="sm" x="396.10" y="181.20" font-size="6.3">HR, 5.80; 95% CI, 3.49-9.63; p &lt; 0.001</text>
<text class="sm" x="471.50" y="201.50" font-size="6.30">≤ 96 min</text>
<text class="sm" x="466.30" y="268.60" font-size="6.30">&gt; 96 min</text>
</g>
<g>
<path d="M40.50,335.50 H42.50 V335.50 H44.50 V336.50 H45.50 V336.50 H47.50 V336.50 H49.50 V337.50 H50.50 V338.50 H52.50 V339.50 H53.50 V339.50 H55.50 V340.50 H57.50 V340.50 H59.50 V342.50 H60.50 V343.50 H62.50 V344.50 H64.50 V345.50 H74.50 H76.50 V346.50 H78.50 V346.50 H80.50 V347.50 H82.50 V348.50 H84.50 V348.50 H85.50 V349.50 H87.50 V349.50 H89.50 V350.50 H90.50 V350.50 H99.50 H101.50 V352.50 H102.50 V353.50 H104.50 V355.50 H106.50 V355.50 H107.50 V356.50 H109.50 V356.50 H109.50 V358.50 H110.50 V360.50 H110.50 V362.50 H154.50" fill="none" stroke="#b8364d" stroke-width="1.2"/>
<path d="M40.50,335.50 H42.50 V335.50 H43.50 V336.50 H45.50 V336.50 H47.50 V337.50 H49.50 V338.50 H51.50 V340.50 H53.50 V342.50 H55.50 V344.50 H57.50 V345.50 H59.50 V346.50 H60.50 V347.50 H62.50 V348.50 H64.50 V349.50 H65.50 V349.50 H67.50 V350.50 H69.50 V351.50 H70.50 V352.50 H72.50 V353.50 H74.50 V354.50 H76.50 V354.50 H78.50 V355.50 H80.50 V356.50 H82.50 V356.50 H83.50 V357.50 H85.50 V357.50 H87.50 V358.50 H89.50 V359.50 H91.50 V359.50 H93.50 V360.50 H95.50 V361.50 H96.50 V362.50 H98.50 V363.50 H100.50 V364.50 H102.50 V365.50 H103.50 V367.50 H104.50 V369.50 H105.50 V371.50 H105.50 V373.50 H106.50 V375.50 H107.50 V377.50 H108.50 V379.50 H109.50 V380.50 H111.50 V382.50 H113.50 V383.50 H115.50 V383.50 H116.50 V384.50 H118.50 V384.50 H120.50 V385.50 H122.50 V386.50 H124.50 V387.50 H126.50 V387.50 H128.50 V388.50 H154.50" fill="none" stroke="#37537a" stroke-width="1.15"/>
<line x1="111.50" y1="361.50" x2="154.50" y2="361.50" stroke="#b8364d" stroke-width="1" stroke-dasharray="0.8 0.8" opacity="0.75"/>
<rect x="37.00" y="327.30" width="131.70" height="103.80" fill="none" stroke="#111" stroke-width="1.5"/>
<line x1="33.40" y1="431.10" x2="37.00" y2="431.10" stroke="#111" stroke-width="1.2"/>
<text class="tk" x="30.80" y="434.10" font-size="8.4" text-anchor="end" textLength="10.4" lengthAdjust="spacingAndGlyphs">0.4</text>
<line x1="33.40" y1="415.22" x2="37.00" y2="415.22" stroke="#111" stroke-width="1.2"/>
<text class="tk" x="30.80" y="418.22" font-size="8.4" text-anchor="end" textLength="10.4" lengthAdjust="spacingAndGlyphs">0.5</text>
<line x1="33.40" y1="399.33" x2="37.00" y2="399.33" stroke="#111" stroke-width="1.2"/>
<text class="tk" x="30.80" y="402.33" font-size="8.4" text-anchor="end" textLength="10.4" lengthAdjust="spacingAndGlyphs">0.6</text>
<line x1="33.40" y1="383.45" x2="37.00" y2="383.45" stroke="#111" stroke-width="1.2"/>
<text class="tk" x="30.80" y="386.45" font-size="8.4" text-anchor="end" textLength="10.4" lengthAdjust="spacingAndGlyphs">0.7</text>
<line x1="33.40" y1="367.57" x2="37.00" y2="367.57" stroke="#111" stroke-width="1.2"/>
<text class="tk" x="30.80" y="370.57" font-size="8.4" text-anchor="end" textLength="10.4" lengthAdjust="spacingAndGlyphs">0.8</text>
<line x1="33.40" y1="351.68" x2="37.00" y2="351.68" stroke="#111" stroke-width="1.2"/>
<text class="tk" x="30.80" y="354.68" font-size="8.4" text-anchor="end" textLength="10.4" lengthAdjust="spacingAndGlyphs">0.9</text>
<line x1="33.40" y1="335.80" x2="37.00" y2="335.80" stroke="#111" stroke-width="1.2"/>
<text class="tk" x="30.80" y="338.80" font-size="8.4" text-anchor="end" textLength="10.4" lengthAdjust="spacingAndGlyphs">1.0</text>
<line x1="40.75" y1="431.10" x2="40.75" y2="434.40" stroke="#111" stroke-width="1.2"/>
<text class="tk" x="40.75" y="443.40" font-size="8.4" text-anchor="middle" textLength="4.40" lengthAdjust="spacingAndGlyphs">0</text>
<line x1="56.74" y1="431.10" x2="56.74" y2="434.40" stroke="#111" stroke-width="1.2"/>
<text class="tk" x="56.74" y="443.40" font-size="8.4" text-anchor="middle" textLength="8.00" lengthAdjust="spacingAndGlyphs">10</text>
<line x1="72.74" y1="431.10" x2="72.74" y2="434.40" stroke="#111" stroke-width="1.2"/>
<text class="tk" x="72.74" y="443.40" font-size="8.4" text-anchor="middle" textLength="8.00" lengthAdjust="spacingAndGlyphs">20</text>
<line x1="88.73" y1="431.10" x2="88.73" y2="434.40" stroke="#111" stroke-width="1.2"/>
<text class="tk" x="88.73" y="443.40" font-size="8.4" text-anchor="middle" textLength="8.00" lengthAdjust="spacingAndGlyphs">30</text>
<line x1="104.72" y1="431.10" x2="104.72" y2="434.40" stroke="#111" stroke-width="1.2"/>
<text class="tk" x="104.72" y="443.40" font-size="8.4" text-anchor="middle" textLength="8.00" lengthAdjust="spacingAndGlyphs">40</text>
<line x1="120.72" y1="431.10" x2="120.72" y2="434.40" stroke="#111" stroke-width="1.2"/>
<text class="tk" x="120.72" y="443.40" font-size="8.4" text-anchor="middle" textLength="8.00" lengthAdjust="spacingAndGlyphs">50</text>
<line x1="136.71" y1="431.10" x2="136.71" y2="434.40" stroke="#111" stroke-width="1.2"/>
<text class="tk" x="136.71" y="443.40" font-size="8.4" text-anchor="middle" textLength="8.00" lengthAdjust="spacingAndGlyphs">60</text>
<line x1="152.71" y1="431.10" x2="152.71" y2="434.40" stroke="#111" stroke-width="1.2"/>
<text class="tk" x="152.71" y="443.40" font-size="8.4" text-anchor="middle" textLength="8.00" lengthAdjust="spacingAndGlyphs">70</text>
<line x1="168.70" y1="431.10" x2="168.70" y2="434.40" stroke="#111" stroke-width="1.2"/>
<text class="tk" x="168.70" y="443.40" font-size="8.4" text-anchor="middle" textLength="8.00" lengthAdjust="spacingAndGlyphs">80</text>
<text x="102.85" y="455.80" font-size="8.3" text-anchor="middle" textLength="94.6" lengthAdjust="spacingAndGlyphs">Follow-up duration (months)</text>
<text class="yl" transform="translate(14.50,379.20) rotate(-90)" font-size="10" text-anchor="middle" textLength="47.4" lengthAdjust="spacingAndGlyphs">Event free rate</text>
<text x="102.85" y="322.10" font-size="9.8" text-anchor="middle" textLength="13.90" lengthAdjust="spacingAndGlyphs">CRP</text>
<text class="sm" x="43.60" y="424.50" font-size="6.3">HR, 2.06; 95% CI, 1.27-3.33; p = 0.012</text>
<text class="sm" x="124.10" y="358.10" font-size="6.30">≤ 1.05 mg/L</text>
<text class="sm" x="128.90" y="383.10" font-size="6.30">&gt; 1.05 mg/L</text>
</g>
<g>
<path d="M210.50,335.50 H219.50 H221.50 V336.50 H222.50 V337.50 H224.50 V337.50 H225.50 V337.50 H227.50 V337.50 H229.50 V338.50 H231.50 V338.50 H232.50 V338.50 H234.50 V338.50 H236.50 V338.50 H237.50 V338.50 H239.50 V339.50 H241.50 V339.50 H242.50 V339.50 H244.50 V339.50 H246.50 V339.50 H247.50 V339.50 H249.50 V340.50 H251.50 V340.50 H252.50 V340.50 H254.50 V340.50 H256.50 V341.50 H258.50 V341.50 H260.50 V342.50 H261.50 V342.50 H263.50 V343.50 H265.50 V343.50 H267.50 V344.50 H269.50 V344.50 H271.50 V345.50 H272.50 V346.50 H273.50 V348.50 H273.50 V349.50 H274.50 V351.50 H274.50 V353.50 H276.50 V355.50 H277.50 V357.50 H278.50 V359.50 H279.50 V360.50 H281.50 V361.50 H282.50 V362.50 H297.50 H298.50 V364.50 H324.50" fill="none" stroke="#b8364d" stroke-width="1.2"/>
<path d="M210.50,335.50 H212.50 V336.50 H213.50 V336.50 H214.50 V338.50 H215.50 V339.50 H217.50 V341.50 H218.50 V343.50 H219.50 V345.50 H220.50 V347.50 H222.50 V349.50 H223.50 V350.50 H224.50 V352.50 H225.50 V354.50 H227.50 V356.50 H228.50 V358.50 H229.50 V360.50 H230.50 V362.50 H232.50 V364.50 H234.50 V365.50 H236.50 V367.50 H238.50 V369.50 H240.50 V370.50 H241.50 V371.50 H243.50 V372.50 H245.50 V373.50 H246.50 V374.50 H248.50 V375.50 H250.50 V376.50 H252.50 V378.50 H254.50 V379.50 H256.50 V380.50 H258.50 V381.50 H260.50 V382.50 H262.50 V383.50 H264.50 V384.50 H265.50 V384.50 H267.50 V385.50 H269.50 V386.50 H270.50 V387.50 H272.50 V388.50 H273.50 V390.50 H274.50 V391.50 H276.50 V393.50 H277.50 V395.50 H278.50 V397.50 H279.50 V398.50 H281.50 V399.50 H282.50 V400.50 H284.50 V402.50 H286.50 V402.50 H287.50 V403.50 H289.50 V403.50 H291.50 V405.50 H292.50 V407.50 H325.50" fill="none" stroke="#37537a" stroke-width="1.15"/>
<line x1="298.50" y1="363.50" x2="324.50" y2="363.50" stroke="#b8364d" stroke-width="1" stroke-dasharray="0.8 0.8" opacity="0.75"/>
<rect x="206.30" y="327.30" width="131.80" height="103.80" fill="none" stroke="#111" stroke-width="1.5"/>
<line x1="202.70" y1="431.10" x2="206.30" y2="431.10" stroke="#111" stroke-width="1.2"/>
<text class="tk" x="200.10" y="434.10" font-size="8.4" text-anchor="end" textLength="10.4" lengthAdjust="spacingAndGlyphs">0.4</text>
<line x1="202.70" y1="415.22" x2="206.30" y2="415.22" stroke="#111" stroke-width="1.2"/>
<text class="tk" x="200.10" y="418.22" font-size="8.4" text-anchor="end" textLength="10.4" lengthAdjust="spacingAndGlyphs">0.5</text>
<line x1="202.70" y1="399.33" x2="206.30" y2="399.33" stroke="#111" stroke-width="1.2"/>
<text class="tk" x="200.10" y="402.33" font-size="8.4" text-anchor="end" textLength="10.4" lengthAdjust="spacingAndGlyphs">0.6</text>
<line x1="202.70" y1="383.45" x2="206.30" y2="383.45" stroke="#111" stroke-width="1.2"/>
<text class="tk" x="200.10" y="386.45" font-size="8.4" text-anchor="end" textLength="10.4" lengthAdjust="spacingAndGlyphs">0.7</text>
<line x1="202.70" y1="367.57" x2="206.30" y2="367.57" stroke="#111" stroke-width="1.2"/>
<text class="tk" x="200.10" y="370.57" font-size="8.4" text-anchor="end" textLength="10.4" lengthAdjust="spacingAndGlyphs">0.8</text>
<line x1="202.70" y1="351.68" x2="206.30" y2="351.68" stroke="#111" stroke-width="1.2"/>
<text class="tk" x="200.10" y="354.68" font-size="8.4" text-anchor="end" textLength="10.4" lengthAdjust="spacingAndGlyphs">0.9</text>
<line x1="202.70" y1="335.80" x2="206.30" y2="335.80" stroke="#111" stroke-width="1.2"/>
<text class="tk" x="200.10" y="338.80" font-size="8.4" text-anchor="end" textLength="10.4" lengthAdjust="spacingAndGlyphs">1.0</text>
<line x1="210.40" y1="431.10" x2="210.40" y2="434.40" stroke="#111" stroke-width="1.2"/>
<text class="tk" x="210.40" y="443.40" font-size="8.4" text-anchor="middle" textLength="4.40" lengthAdjust="spacingAndGlyphs">0</text>
<line x1="226.36" y1="431.10" x2="226.36" y2="434.40" stroke="#111" stroke-width="1.2"/>
<text class="tk" x="226.36" y="443.40" font-size="8.4" text-anchor="middle" textLength="8.00" lengthAdjust="spacingAndGlyphs">10</text>
<line x1="242.33" y1="431.10" x2="242.33" y2="434.40" stroke="#111" stroke-width="1.2"/>
<text class="tk" x="242.33" y="443.40" font-size="8.4" text-anchor="middle" textLength="8.00" lengthAdjust="spacingAndGlyphs">20</text>
<line x1="258.29" y1="431.10" x2="258.29" y2="434.40" stroke="#111" stroke-width="1.2"/>
<text class="tk" x="258.29" y="443.40" font-size="8.4" text-anchor="middle" textLength="8.00" lengthAdjust="spacingAndGlyphs">30</text>
<line x1="274.25" y1="431.10" x2="274.25" y2="434.40" stroke="#111" stroke-width="1.2"/>
<text class="tk" x="274.25" y="443.40" font-size="8.4" text-anchor="middle" textLength="8.00" lengthAdjust="spacingAndGlyphs">40</text>
<line x1="290.21" y1="431.10" x2="290.21" y2="434.40" stroke="#111" stroke-width="1.2"/>
<text class="tk" x="290.21" y="443.40" font-size="8.4" text-anchor="middle" textLength="8.00" lengthAdjust="spacingAndGlyphs">50</text>
<line x1="306.18" y1="431.10" x2="306.18" y2="434.40" stroke="#111" stroke-width="1.2"/>
<text class="tk" x="306.18" y="443.40" font-size="8.4" text-anchor="middle" textLength="8.00" lengthAdjust="spacingAndGlyphs">60</text>
<line x1="322.14" y1="431.10" x2="322.14" y2="434.40" stroke="#111" stroke-width="1.2"/>
<text class="tk" x="322.14" y="443.40" font-size="8.4" text-anchor="middle" textLength="8.00" lengthAdjust="spacingAndGlyphs">70</text>
<line x1="338.10" y1="431.10" x2="338.10" y2="434.40" stroke="#111" stroke-width="1.2"/>
<text class="tk" x="338.10" y="443.40" font-size="8.4" text-anchor="middle" textLength="8.00" lengthAdjust="spacingAndGlyphs">80</text>
<text x="272.20" y="455.80" font-size="8.3" text-anchor="middle" textLength="94.6" lengthAdjust="spacingAndGlyphs">Follow-up duration (months)</text>
<text class="yl" transform="translate(183.80,379.20) rotate(-90)" font-size="10" text-anchor="middle" textLength="47.4" lengthAdjust="spacingAndGlyphs">Event free rate</text>
<text x="272.20" y="322.10" font-size="9.8" text-anchor="middle" textLength="28.20" lengthAdjust="spacingAndGlyphs">D-dimer</text>
<text class="sm" x="214.50" y="424.50" font-size="6.3">HR, 3.35; 95% CI, 2.08-5.42; p &lt; 0.001</text>
<text class="sm" x="298.20" y="359.70" font-size="6.30">≤ 299 mg/dL</text>
<text class="sm" x="296.70" y="403.30" font-size="6.30">&gt; 299 mg/dL</text>
</g>
<g>
<path d="M379.50,335.50 H381.50 V336.50 H382.50 V336.50 H384.50 V337.50 H386.50 V339.50 H388.50 V340.50 H390.50 V342.50 H391.50 V344.50 H393.50 V346.50 H394.50 V348.50 H396.50 V350.50 H398.50 V352.50 H400.50 V353.50 H401.50 V354.50 H403.50 V356.50 H404.50 V357.50 H406.50 V359.50 H407.50 V360.50 H409.50 V362.50 H411.50 V364.50 H413.50 V365.50 H415.50 V366.50 H417.50 V367.50 H419.50 V368.50 H420.50 V368.50 H422.50 V369.50 H424.50 V369.50 H426.50 V370.50 H428.50 V370.50 H430.50 V371.50 H431.50 V371.50 H433.50 V372.50 H435.50 V373.50 H437.50 V374.50 H439.50 V376.50 H441.50 V378.50 H441.50 V380.50 H442.50 V381.50 H442.50 V383.50 H442.50 V385.50 H443.50 V386.50 H443.50 V388.50 H445.50 V390.50 H446.50 V392.50 H447.50 V394.50 H447.50 V395.50 H448.50 V397.50 H448.50 V399.50 H449.50 V400.50 H449.50 V402.50 H450.50 V404.50 H450.50 V405.50 H451.50 V407.50 H452.50 V409.50 H453.50 V410.50 H458.50 H460.50 V412.50 H461.50 V413.50 H462.50 V415.50 H462.50 V416.50 H493.50" fill="none" stroke="#37537a" stroke-width="1.15"/>
<path d="M379.50,335.50 H381.50 V335.50 H383.50 V336.50 H384.50 V336.50 H386.50 V336.50 H388.50 V337.50 H389.50 V338.50 H391.50 V339.50 H393.50 V340.50 H395.50 V341.50 H396.50 V342.50 H398.50 V343.50 H400.50 V343.50 H402.50 V343.50 H404.50 V343.50 H405.50 V344.50 H407.50 V344.50 H409.50 V344.50 H411.50 V344.50 H413.50 V344.50 H415.50 V345.50 H417.50 V345.50 H419.50 V345.50 H420.50 V346.50 H422.50 V346.50 H424.50 V346.50 H425.50 V347.50 H427.50 V347.50 H429.50 V348.50 H431.50 V349.50 H433.50 V350.50 H435.50 V351.50 H437.50 V351.50 H439.50 V352.50 H441.50 V352.50 H443.50 V353.50 H444.50 V353.50 H446.50 V354.50 H448.50 V355.50 H449.50 V356.50 H451.50 V357.50 H452.50 V358.50 H466.50 H467.50 V360.50 H494.50" fill="none" stroke="#b8364d" stroke-width="1.2"/>
<line x1="463.50" y1="415.50" x2="493.50" y2="415.50" stroke="#37537a" stroke-width="1" stroke-dasharray="0.8 0.8" opacity="0.75"/>
<rect x="375.60" y="327.30" width="131.70" height="103.80" fill="none" stroke="#111" stroke-width="1.5"/>
<line x1="372.00" y1="431.10" x2="375.60" y2="431.10" stroke="#111" stroke-width="1.2"/>
<text class="tk" x="369.40" y="434.10" font-size="8.4" text-anchor="end" textLength="10.4" lengthAdjust="spacingAndGlyphs">0.4</text>
<line x1="372.00" y1="415.22" x2="375.60" y2="415.22" stroke="#111" stroke-width="1.2"/>
<text class="tk" x="369.40" y="418.22" font-size="8.4" text-anchor="end" textLength="10.4" lengthAdjust="spacingAndGlyphs">0.5</text>
<line x1="372.00" y1="399.33" x2="375.60" y2="399.33" stroke="#111" stroke-width="1.2"/>
<text class="tk" x="369.40" y="402.33" font-size="8.4" text-anchor="end" textLength="10.4" lengthAdjust="spacingAndGlyphs">0.6</text>
<line x1="372.00" y1="383.45" x2="375.60" y2="383.45" stroke="#111" stroke-width="1.2"/>
<text class="tk" x="369.40" y="386.45" font-size="8.4" text-anchor="end" textLength="10.4" lengthAdjust="spacingAndGlyphs">0.7</text>
<line x1="372.00" y1="367.57" x2="375.60" y2="367.57" stroke="#111" stroke-width="1.2"/>
<text class="tk" x="369.40" y="370.57" font-size="8.4" text-anchor="end" textLength="10.4" lengthAdjust="spacingAndGlyphs">0.8</text>
<line x1="372.00" y1="351.68" x2="375.60" y2="351.68" stroke="#111" stroke-width="1.2"/>
<text class="tk" x="369.40" y="354.68" font-size="8.4" text-anchor="end" textLength="10.4" lengthAdjust="spacingAndGlyphs">0.9</text>
<line x1="372.00" y1="335.80" x2="375.60" y2="335.80" stroke="#111" stroke-width="1.2"/>
<text class="tk" x="369.40" y="338.80" font-size="8.4" text-anchor="end" textLength="10.4" lengthAdjust="spacingAndGlyphs">1.0</text>
<line x1="379.40" y1="431.10" x2="379.40" y2="434.40" stroke="#111" stroke-width="1.2"/>
<text class="tk" x="379.40" y="443.40" font-size="8.4" text-anchor="middle" textLength="4.40" lengthAdjust="spacingAndGlyphs">0</text>
<line x1="395.39" y1="431.10" x2="395.39" y2="434.40" stroke="#111" stroke-width="1.2"/>
<text class="tk" x="395.39" y="443.40" font-size="8.4" text-anchor="middle" textLength="8.00" lengthAdjust="spacingAndGlyphs">10</text>
<line x1="411.38" y1="431.10" x2="411.38" y2="434.40" stroke="#111" stroke-width="1.2"/>
<text class="tk" x="411.38" y="443.40" font-size="8.4" text-anchor="middle" textLength="8.00" lengthAdjust="spacingAndGlyphs">20</text>
<line x1="427.36" y1="431.10" x2="427.36" y2="434.40" stroke="#111" stroke-width="1.2"/>
<text class="tk" x="427.36" y="443.40" font-size="8.4" text-anchor="middle" textLength="8.00" lengthAdjust="spacingAndGlyphs">30</text>
<line x1="443.35" y1="431.10" x2="443.35" y2="434.40" stroke="#111" stroke-width="1.2"/>
<text class="tk" x="443.35" y="443.40" font-size="8.4" text-anchor="middle" textLength="8.00" lengthAdjust="spacingAndGlyphs">40</text>
<line x1="459.34" y1="431.10" x2="459.34" y2="434.40" stroke="#111" stroke-width="1.2"/>
<text class="tk" x="459.34" y="443.40" font-size="8.4" text-anchor="middle" textLength="8.00" lengthAdjust="spacingAndGlyphs">50</text>
<line x1="475.32" y1="431.10" x2="475.32" y2="434.40" stroke="#111" stroke-width="1.2"/>
<text class="tk" x="475.32" y="443.40" font-size="8.4" text-anchor="middle" textLength="8.00" lengthAdjust="spacingAndGlyphs">60</text>
<line x1="491.31" y1="431.10" x2="491.31" y2="434.40" stroke="#111" stroke-width="1.2"/>
<text class="tk" x="491.31" y="443.40" font-size="8.4" text-anchor="middle" textLength="8.00" lengthAdjust="spacingAndGlyphs">70</text>
<line x1="507.30" y1="431.10" x2="507.30" y2="434.40" stroke="#111" stroke-width="1.2"/>
<text class="tk" x="507.30" y="443.40" font-size="8.4" text-anchor="middle" textLength="8.00" lengthAdjust="spacingAndGlyphs">80</text>
<text x="441.45" y="455.80" font-size="8.3" text-anchor="middle" textLength="94.6" lengthAdjust="spacingAndGlyphs">Follow-up duration (months)</text>
<text class="yl" transform="translate(353.10,379.20) rotate(-90)" font-size="10" text-anchor="middle" textLength="47.4" lengthAdjust="spacingAndGlyphs">Event free rate</text>
<text x="441.45" y="322.10" font-size="9.8" text-anchor="middle" textLength="48.90" lengthAdjust="spacingAndGlyphs">Peak thrombin</text>
<text class="sm" x="384.50" y="424.50" font-size="6.3">HR, 3.70; 95% CI, 2.31-5.95; p &lt; 0.001</text>
<text class="sm" x="467.50" y="355.90" font-size="6.30">≤ 269 nM</text>
<text class="sm" x="467.30" y="411.90" font-size="6.30">&gt; 269 nM</text>
</g>
<g>
<path d="M40.50,489.50 H43.50 H45.50 V490.50 H46.50 V490.50 H48.50 V491.50 H49.50 V493.50 H49.50 V494.50 H51.50 V496.50 H52.50 V498.50 H53.50 V500.50 H53.50 V501.50 H54.50 V503.50 H56.50 V505.50 H57.50 V507.50 H59.50 V509.50 H60.50 V511.50 H62.50 V513.50 H64.50 V514.50 H66.50 V516.50 H68.50 V518.50 H70.50 V519.50 H72.50 V520.50 H74.50 V520.50 H75.50 V521.50 H77.50 V521.50 H79.50 V522.50 H81.50 V522.50 H83.50 V523.50 H85.50 V525.50 H87.50 V526.50 H89.50 V528.50 H90.50 V529.50 H92.50 V531.50 H100.50 H102.50 V533.50 H103.50 V534.50 H104.50 V536.50 H104.50 V537.50 H105.50 V539.50 H106.50 V541.50 H107.50 V542.50 H108.50 V544.50 H109.50 V546.50 H109.50 V547.50 H110.50 V549.50 H111.50 V551.50 H112.50 V552.50 H114.50 V552.50 H116.50 V552.50 H117.50 V552.50 H119.50 V552.50 H121.50 V553.50 H123.50 V553.50 H124.50 V553.50 H126.50 V553.50 H128.50 V553.50 H129.50 V555.50 H154.50" fill="none" stroke="#37537a" stroke-width="1.15"/>
<path d="M40.50,489.50 H49.50 H51.50 V490.50 H53.50 V490.50 H55.50 V490.50 H57.50 V490.50 H58.50 V491.50 H60.50 V491.50 H62.50 V491.50 H64.50 V491.50 H66.50 V492.50 H68.50 V492.50 H70.50 V492.50 H72.50 V492.50 H74.50 V493.50 H75.50 V493.50 H77.50 V493.50 H79.50 V493.50 H81.50 V493.50 H82.50 V493.50 H84.50 V494.50 H86.50 V494.50 H87.50 V494.50 H89.50 V494.50 H91.50 V495.50 H92.50 V495.50 H94.50 V496.50 H96.50 V497.50 H98.50 V498.50 H100.50 V500.50 H102.50 V501.50 H103.50 V503.50 H104.50 V504.50 H106.50 V506.50 H107.50 V508.50 H108.50 V510.50 H109.50 V512.50 H111.50 V513.50 H112.50 V514.50 H117.50 H119.50 V516.50 H121.50 V517.50 H123.50 V518.50 H155.50" fill="none" stroke="#b8364d" stroke-width="1.2"/>
<line x1="129.50" y1="554.50" x2="154.50" y2="554.50" stroke="#37537a" stroke-width="1" stroke-dasharray="0.8 0.8" opacity="0.75"/>
<rect x="37.00" y="480.60" width="131.70" height="103.75" fill="none" stroke="#111" stroke-width="1.5"/>
<line x1="33.40" y1="584.35" x2="37.00" y2="584.35" stroke="#111" stroke-width="1.2"/>
<text class="tk" x="30.80" y="587.35" font-size="8.4" text-anchor="end" textLength="10.4" lengthAdjust="spacingAndGlyphs">0.4</text>
<line x1="33.40" y1="568.45" x2="37.00" y2="568.45" stroke="#111" stroke-width="1.2"/>
<text class="tk" x="30.80" y="571.45" font-size="8.4" text-anchor="end" textLength="10.4" lengthAdjust="spacingAndGlyphs">0.5</text>
<line x1="33.40" y1="552.55" x2="37.00" y2="552.55" stroke="#111" stroke-width="1.2"/>
<text class="tk" x="30.80" y="555.55" font-size="8.4" text-anchor="end" textLength="10.4" lengthAdjust="spacingAndGlyphs">0.6</text>
<line x1="33.40" y1="536.65" x2="37.00" y2="536.65" stroke="#111" stroke-width="1.2"/>
<text class="tk" x="30.80" y="539.65" font-size="8.4" text-anchor="end" textLength="10.4" lengthAdjust="spacingAndGlyphs">0.7</text>
<line x1="33.40" y1="520.75" x2="37.00" y2="520.75" stroke="#111" stroke-width="1.2"/>
<text class="tk" x="30.80" y="523.75" font-size="8.4" text-anchor="end" textLength="10.4" lengthAdjust="spacingAndGlyphs">0.8</text>
<line x1="33.40" y1="504.85" x2="37.00" y2="504.85" stroke="#111" stroke-width="1.2"/>
<text class="tk" x="30.80" y="507.85" font-size="8.4" text-anchor="end" textLength="10.4" lengthAdjust="spacingAndGlyphs">0.9</text>
<line x1="33.40" y1="488.95" x2="37.00" y2="488.95" stroke="#111" stroke-width="1.2"/>
<text class="tk" x="30.80" y="491.95" font-size="8.4" text-anchor="end" textLength="10.4" lengthAdjust="spacingAndGlyphs">1.0</text>
<line x1="40.75" y1="584.35" x2="40.75" y2="587.65" stroke="#111" stroke-width="1.2"/>
<text class="tk" x="40.75" y="596.65" font-size="8.4" text-anchor="middle" textLength="4.40" lengthAdjust="spacingAndGlyphs">0</text>
<line x1="56.74" y1="584.35" x2="56.74" y2="587.65" stroke="#111" stroke-width="1.2"/>
<text class="tk" x="56.74" y="596.65" font-size="8.4" text-anchor="middle" textLength="8.00" lengthAdjust="spacingAndGlyphs">10</text>
<line x1="72.74" y1="584.35" x2="72.74" y2="587.65" stroke="#111" stroke-width="1.2"/>
<text class="tk" x="72.74" y="596.65" font-size="8.4" text-anchor="middle" textLength="8.00" lengthAdjust="spacingAndGlyphs">20</text>
<line x1="88.73" y1="584.35" x2="88.73" y2="587.65" stroke="#111" stroke-width="1.2"/>
<text class="tk" x="88.73" y="596.65" font-size="8.4" text-anchor="middle" textLength="8.00" lengthAdjust="spacingAndGlyphs">30</text>
<line x1="104.72" y1="584.35" x2="104.72" y2="587.65" stroke="#111" stroke-width="1.2"/>
<text class="tk" x="104.72" y="596.65" font-size="8.4" text-anchor="middle" textLength="8.00" lengthAdjust="spacingAndGlyphs">40</text>
<line x1="120.72" y1="584.35" x2="120.72" y2="587.65" stroke="#111" stroke-width="1.2"/>
<text class="tk" x="120.72" y="596.65" font-size="8.4" text-anchor="middle" textLength="8.00" lengthAdjust="spacingAndGlyphs">50</text>
<line x1="136.71" y1="584.35" x2="136.71" y2="587.65" stroke="#111" stroke-width="1.2"/>
<text class="tk" x="136.71" y="596.65" font-size="8.4" text-anchor="middle" textLength="8.00" lengthAdjust="spacingAndGlyphs">60</text>
<line x1="152.71" y1="584.35" x2="152.71" y2="587.65" stroke="#111" stroke-width="1.2"/>
<text class="tk" x="152.71" y="596.65" font-size="8.4" text-anchor="middle" textLength="8.00" lengthAdjust="spacingAndGlyphs">70</text>
<line x1="168.70" y1="584.35" x2="168.70" y2="587.65" stroke="#111" stroke-width="1.2"/>
<text class="tk" x="168.70" y="596.65" font-size="8.4" text-anchor="middle" textLength="8.00" lengthAdjust="spacingAndGlyphs">80</text>
<text x="102.85" y="609.05" font-size="8.3" text-anchor="middle" textLength="94.6" lengthAdjust="spacingAndGlyphs">Follow-up duration (months)</text>
<text class="yl" transform="translate(14.50,532.48) rotate(-90)" font-size="10" text-anchor="middle" textLength="47.4" lengthAdjust="spacingAndGlyphs">Event free rate</text>
<text x="102.85" y="475.40" font-size="9.8" text-anchor="middle" textLength="12.00" lengthAdjust="spacingAndGlyphs">ETP</text>
<text class="sm" x="43.60" y="577.90" font-size="6.3">HR, 2.85; 95% CI, 1.78-4.54; p &lt; 0.001</text>
<text class="sm" x="114.70" y="511.40" font-size="6.30">≤ 1580.78 nM*min</text>
<text class="sm" x="114.70" y="548.50" font-size="6.30">&gt; 1580.78 nM*min</text>
</g>
<g>
<path d="M210.50,489.50 H212.50 V489.50 H214.50 V490.50 H215.50 V490.50 H217.50 V490.50 H219.50 V492.50 H220.50 H244.50 H245.50 V494.50 H245.50 V496.50 H248.50 H249.50 V498.50 H249.50 V500.50 H257.50 H258.50 V502.50 H258.50 V504.50 H319.50" fill="none" stroke="#b8364d" stroke-width="1.2"/>
<path d="M210.50,489.50 H212.50 V489.50 H214.50 V490.50 H215.50 V490.50 H217.50 V490.50 H219.50 V491.50 H220.50 V492.50 H222.50 V493.50 H223.50 V494.50 H225.50 V496.50 H227.50 V498.50 H229.50 V500.50 H230.50 V501.50 H232.50 V502.50 H234.50 V503.50 H236.50 V504.50 H237.50 V505.50 H239.50 V506.50 H241.50 V507.50 H243.50 V507.50 H245.50 V507.50 H247.50 V508.50 H249.50 V508.50 H251.50 V509.50 H253.50 V509.50 H258.50 H260.50 V510.50 H262.50 V511.50 H264.50 V512.50 H265.50 V512.50 H267.50 V513.50 H269.50 V515.50 H270.50 V516.50 H272.50 V518.50 H273.50 V519.50 H274.50 V521.50 H274.50 V523.50 H275.50 V525.50 H275.50 V527.50 H277.50 V529.50 H278.50 V531.50 H280.50 V533.50 H282.50 V534.50 H284.50 V534.50 H286.50 V535.50 H287.50 V535.50 H289.50 V535.50 H291.50 V536.50 H293.50 V537.50 H295.50 V538.50 H297.50 V539.50 H324.50" fill="none" stroke="#37537a" stroke-width="1.15"/>
<line x1="258.50" y1="503.50" x2="319.50" y2="503.50" stroke="#b8364d" stroke-width="1" stroke-dasharray="0.8 0.8" opacity="0.75"/>
<rect x="206.30" y="480.60" width="131.80" height="103.75" fill="none" stroke="#111" stroke-width="1.5"/>
<line x1="202.70" y1="584.35" x2="206.30" y2="584.35" stroke="#111" stroke-width="1.2"/>
<text class="tk" x="200.10" y="587.35" font-size="8.4" text-anchor="end" textLength="10.4" lengthAdjust="spacingAndGlyphs">0.4</text>
<line x1="202.70" y1="568.45" x2="206.30" y2="568.45" stroke="#111" stroke-width="1.2"/>
<text class="tk" x="200.10" y="571.45" font-size="8.4" text-anchor="end" textLength="10.4" lengthAdjust="spacingAndGlyphs">0.5</text>
<line x1="202.70" y1="552.55" x2="206.30" y2="552.55" stroke="#111" stroke-width="1.2"/>
<text class="tk" x="200.10" y="555.55" font-size="8.4" text-anchor="end" textLength="10.4" lengthAdjust="spacingAndGlyphs">0.6</text>
<line x1="202.70" y1="536.65" x2="206.30" y2="536.65" stroke="#111" stroke-width="1.2"/>
<text class="tk" x="200.10" y="539.65" font-size="8.4" text-anchor="end" textLength="10.4" lengthAdjust="spacingAndGlyphs">0.7</text>
<line x1="202.70" y1="520.75" x2="206.30" y2="520.75" stroke="#111" stroke-width="1.2"/>
<text class="tk" x="200.10" y="523.75" font-size="8.4" text-anchor="end" textLength="10.4" lengthAdjust="spacingAndGlyphs">0.8</text>
<line x1="202.70" y1="504.85" x2="206.30" y2="504.85" stroke="#111" stroke-width="1.2"/>
<text class="tk" x="200.10" y="507.85" font-size="8.4" text-anchor="end" textLength="10.4" lengthAdjust="spacingAndGlyphs">0.9</text>
<line x1="202.70" y1="488.95" x2="206.30" y2="488.95" stroke="#111" stroke-width="1.2"/>
<text class="tk" x="200.10" y="491.95" font-size="8.4" text-anchor="end" textLength="10.4" lengthAdjust="spacingAndGlyphs">1.0</text>
<line x1="210.40" y1="584.35" x2="210.40" y2="587.65" stroke="#111" stroke-width="1.2"/>
<text class="tk" x="210.40" y="596.65" font-size="8.4" text-anchor="middle" textLength="4.40" lengthAdjust="spacingAndGlyphs">0</text>
<line x1="226.36" y1="584.35" x2="226.36" y2="587.65" stroke="#111" stroke-width="1.2"/>
<text class="tk" x="226.36" y="596.65" font-size="8.4" text-anchor="middle" textLength="8.00" lengthAdjust="spacingAndGlyphs">10</text>
<line x1="242.33" y1="584.35" x2="242.33" y2="587.65" stroke="#111" stroke-width="1.2"/>
<text class="tk" x="242.33" y="596.65" font-size="8.4" text-anchor="middle" textLength="8.00" lengthAdjust="spacingAndGlyphs">20</text>
<line x1="258.29" y1="584.35" x2="258.29" y2="587.65" stroke="#111" stroke-width="1.2"/>
<text class="tk" x="258.29" y="596.65" font-size="8.4" text-anchor="middle" textLength="8.00" lengthAdjust="spacingAndGlyphs">30</text>
<line x1="274.25" y1="584.35" x2="274.25" y2="587.65" stroke="#111" stroke-width="1.2"/>
<text class="tk" x="274.25" y="596.65" font-size="8.4" text-anchor="middle" textLength="8.00" lengthAdjust="spacingAndGlyphs">40</text>
<line x1="290.21" y1="584.35" x2="290.21" y2="587.65" stroke="#111" stroke-width="1.2"/>
<text class="tk" x="290.21" y="596.65" font-size="8.4" text-anchor="middle" textLength="8.00" lengthAdjust="spacingAndGlyphs">50</text>
<line x1="306.18" y1="584.35" x2="306.18" y2="587.65" stroke="#111" stroke-width="1.2"/>
<text class="tk" x="306.18" y="596.65" font-size="8.4" text-anchor="middle" textLength="8.00" lengthAdjust="spacingAndGlyphs">60</text>
<line x1="322.14" y1="584.35" x2="322.14" y2="587.65" stroke="#111" stroke-width="1.2"/>
<text class="tk" x="322.14" y="596.65" font-size="8.4" text-anchor="middle" textLength="8.00" lengthAdjust="spacingAndGlyphs">70</text>
<line x1="338.10" y1="584.35" x2="338.10" y2="587.65" stroke="#111" stroke-width="1.2"/>
<text class="tk" x="338.10" y="596.65" font-size="8.4" text-anchor="middle" textLength="8.00" lengthAdjust="spacingAndGlyphs">80</text>
<text x="272.20" y="609.05" font-size="8.3" text-anchor="middle" textLength="94.6" lengthAdjust="spacingAndGlyphs">Follow-up duration (months)</text>
<text class="yl" transform="translate(183.80,532.48) rotate(-90)" font-size="10" text-anchor="middle" textLength="47.4" lengthAdjust="spacingAndGlyphs">Event free rate</text>
<text x="272.20" y="475.40" font-size="9.8" text-anchor="middle" textLength="75.50" lengthAdjust="spacingAndGlyphs">Time to peak thrombin</text>
<text class="sm" x="214.50" y="577.70" font-size="6.3">HR, 0.30; 95% CI, 0.16-0.55; p = 0.01</text>
<text class="sm" x="301.60" y="500.80" font-size="6.30">&gt; 6 min</text>
<text class="sm" x="301.10" y="536.70" font-size="6.30">≤ 6 min</text>
</g>
<g fill="#a8a8a8"><rect x="1" y="1" width="518" height="1"/><rect x="1" y="617" width="518" height="1"/><rect x="1" y="1" width="1" height="617"/><rect x="518" y="1" width="1" height="617"/></g>
<g fill="#000"><rect x="0" y="0" width="520" height="1"/><rect x="0" y="618" width="520" height="1"/><rect x="0" y="0" width="1" height="619"/><rect x="519" y="0" width="1" height="619"/></g>
</svg>
</body></html>
